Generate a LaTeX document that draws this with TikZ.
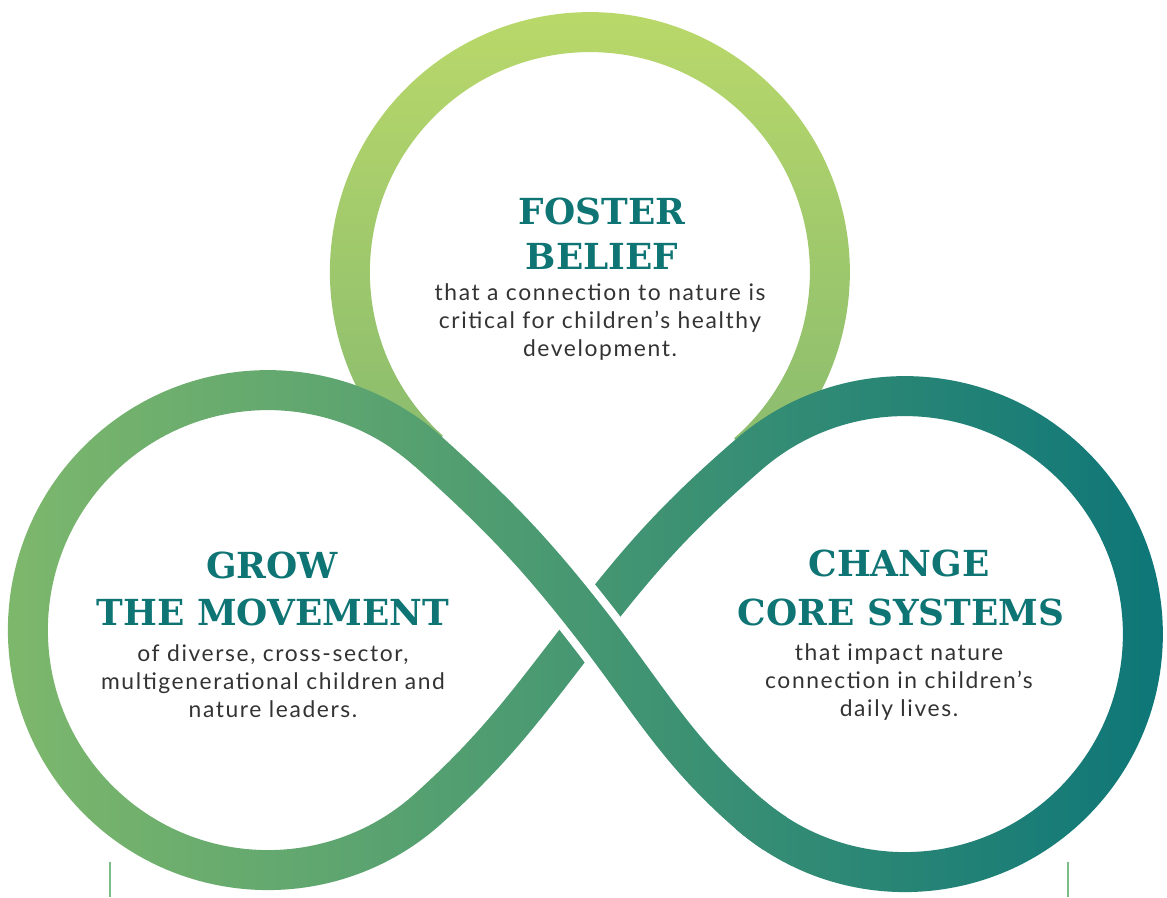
\documentclass[tikz,border=0pt]{standalone}
\usepackage{fontspec}
\setmainfont{DejaVu Serif}
\newfontfamily\bodyfont{Lato}[LetterSpace=7]
\usetikzlibrary{fadings}

\definecolor{leafgreen}{RGB}{126,184,108}
\definecolor{deepteal}{RGB}{14,118,120}
\definecolor{limetop}{RGB}{187,217,106}
\definecolor{sagelow}{RGB}{89,159,114}
\definecolor{headteal}{RGB}{14,116,116}
\definecolor{textgray}{RGB}{51,51,51}
\definecolor{tickgreen}{RGB}{125,188,135}

\tikzset{
  band/.style={line width=0.8cm},
  casing/.style={line width=1.12cm},
  ribbon shade/.style={path fading=#1, fit fading=false,
    fading transform={xshift=11.67cm, yshift=8.97cm}},
  headline/.style={font=\bfseries\fontsize{20.4}{24}\selectfont, text=headteal, inner sep=0pt, anchor=base},
  bodyline/.style={font=\bodyfont\fontsize{13}{15}\selectfont, text=textgray, inner sep=0pt, anchor=base},
}

% centres of the three loops and the crossing
\newcommand\looppoints{%
  \coordinate (L) at (268,267);
  \coordinate (R) at (905,263);
  \coordinate (T) at (590,625);
  \coordinate (X) at (590,274);
  \coordinate (P1) at ([shift={(48:240)}]L);
  \coordinate (P2) at ([shift={(-48:240)}]L);
  \coordinate (Q1) at ([shift={(-131:238)}]R);
  \coordinate (Q2) at ([shift={(131:238)}]R);
}

\begin{tikzfadingfrompicture}[name=toploop, x=0.02cm, y=0.02cm]
  \useasboundingbox (0,0) rectangle (1167,897);
  \looppoints
  \draw[band, white] ([shift={(228:240)}]T) arc (228:-49:240);
\end{tikzfadingfrompicture}

\begin{tikzfadingfrompicture}[name=eightloop, x=0.02cm, y=0.02cm]
  \useasboundingbox (0,0) rectangle (1167,897);
  \looppoints
  \draw[band, white, line join=round] (P1) to[out=-42, in=128] (X) to[out=-52, in=139] (Q1)
    arc (-131:131:238) to[out=-139, in=52] (X)
    to[out=-128, in=42] (P2) arc (-48:-312:240) -- cycle;
  % gap where the strand passes over
  \draw[casing, black] (P1) to[out=-42, in=128] (X) to[out=-52, in=139] (Q1);
  \draw[band, white] ([shift={(56:240)}]L) arc (56:48:240) to[out=-42, in=128] (X)
    to[out=-52, in=139] (Q1) arc (-131:-123:238);
\end{tikzfadingfrompicture}

\begin{document}
\begin{tikzpicture}[x=0.02cm, y=0.02cm]
  \useasboundingbox (0,0) rectangle (1167,897);

  %%% ribbons
  \shade[top color=limetop, bottom color=sagelow, ribbon shade=toploop]
    (0,0) rectangle (1167,897);
  \shade[left color=leafgreen, right color=deepteal, ribbon shade=eightloop]
    (0,0) rectangle (1167,897);

  %%% ticks at the bottom
  \coordinate (tickA) at (110,0);
  \coordinate (tickB) at (1068,0);
  \draw[tickgreen, line width=0.04cm] (tickA) -- ++(0,35);
  \draw[tickgreen, line width=0.04cm] (tickB) -- ++(0,35);

  %%% top loop
  \node[headline] (foster) at (602,672) {FOSTER};
  \node[headline] (belief) at (602,627) {BELIEF};
  \foreach \txt [count=\i] in {that a connection to nature is, critical for children’s healthy, development.}
    \node[bodyline] (beliefline\i) at (600,624-28*\i) {\txt};

  %%% left loop
  \node[headline] (grow) at (272,318) {GROW};
  \node[headline] (movement) at (273,272) {THE MOVEMENT};
  \foreach \txt [count=\i] in {{of diverse, cross-sector,}, multigenerational children and, nature leaders.}
    \node[bodyline] (growline\i) at (273,264-28*\i) {\txt};

  %%% right loop
  \node[headline] (change) at (899,320) {CHANGE};
  \node[headline] (systems) at (901,272) {CORE SYSTEMS};
  \foreach \txt [count=\i] in {that impact nature, connection in children’s, daily lives.}
    \node[bodyline] (changeline\i) at (899,265-28*\i) {\txt};
\end{tikzpicture}
\end{document}
